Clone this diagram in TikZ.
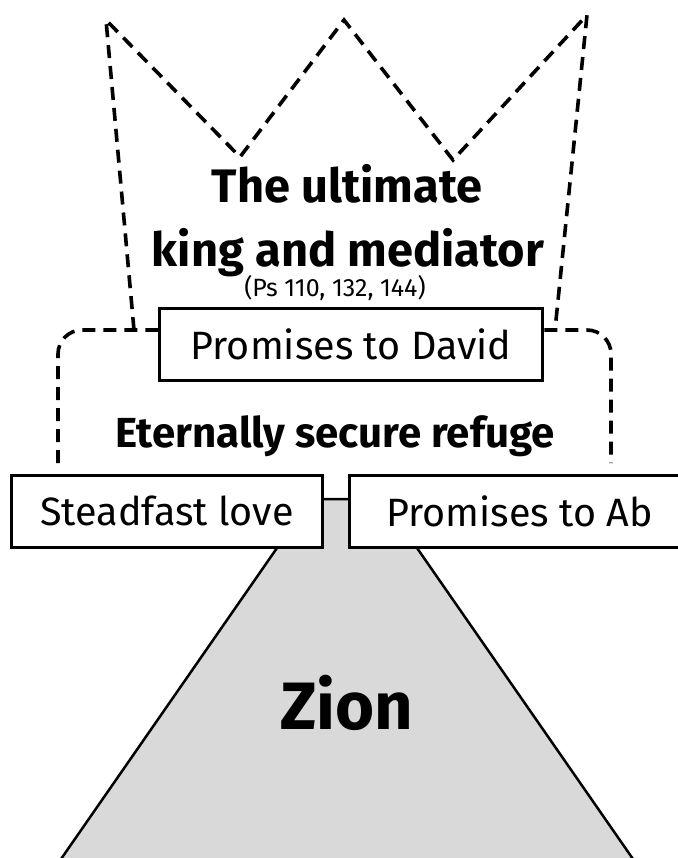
\documentclass[tikz,border=0pt]{standalone}
\usepackage{fontspec}
\setmainfont{Fira Sans}
\usetikzlibrary{positioning}
\definecolor{hillgray}{HTML}{D9D9D9}

\tikzset{
  txtbox/.style={draw, line width=3pt, fill=white, minimum height=72pt, inner sep=0pt,
    font=\fontsize{39.5}{46}\selectfont},
  outline/.style={line width=3.6pt, dash pattern=on 13pt off 8pt, miter limit=20},
  heading/.style={font=\bfseries\fontsize{47}{54}\selectfont, anchor=base},
}

\begin{document}
\begin{tikzpicture}[x=1pt, y=-1pt]
   \useasboundingbox (0,0) rectangle (677,858);
   % the hill
   \draw[fill=hillgray, line width=2.5pt] (311,499) -- (383,499) -- (642,872) -- (52,872) -- cycle;
   % refuge and crown
   \draw[outline, rounded corners=24pt] (58,463) -- (58,330) -- (611,330) -- (611,463);
   \draw[outline] (134,330) -- (106,20) -- (240,157) -- (344,20) -- (453,160) -- (587,15) -- (555,330);
   % boxes
   \node[txtbox, minimum width=383pt] (david) at (351,344) {Promises to David};
   \node[txtbox, minimum width=311pt] (love) at (167,511) {Steadfast love};
   \node[txtbox, minimum width=340pt, right=24pt of love] (abr) {Promises to Ab};
   % labels
   \node[heading] (ultimate) at (347,203) {The ultimate};
   \node[heading] (king) at (348,266) {king and mediator};
   \node[anchor=base, font=\fontsize{25}{28}\selectfont] (psalms) at (335,296) {(Ps 110, 132, 144)};
   \node[heading, font=\bfseries\fontsize{42}{48}\selectfont] (refuge) at (335,447) {Eternally secure refuge};
   \node[anchor=base, font=\bfseries\fontsize{67}{74}\selectfont] (zion) at (347,729) {Zion};
\end{tikzpicture}
\end{document}
